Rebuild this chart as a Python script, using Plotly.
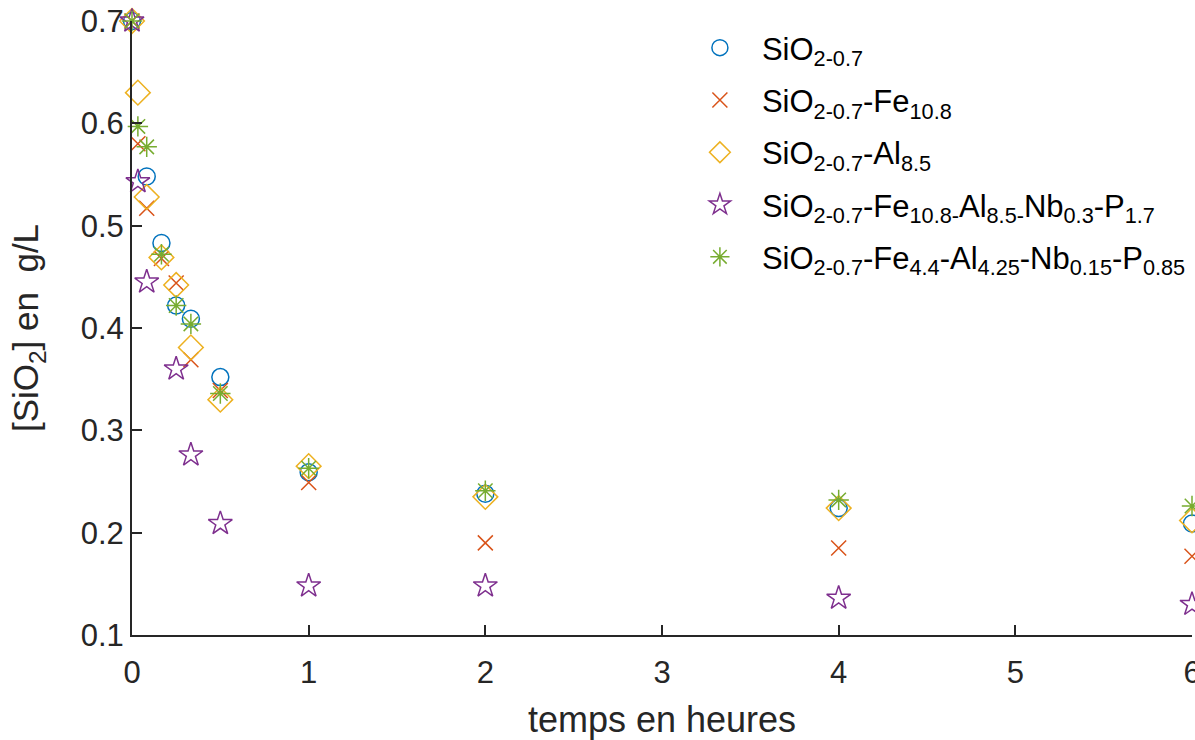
import plotly.graph_objects as go

# time in hours
t_blue = [0, 0.0833, 0.1667, 0.25, 0.3333, 0.5, 1, 2, 4, 6]
v_blue = [0.700, 0.548, 0.483, 0.422, 0.409, 0.352, 0.259, 0.238, 0.224, 0.209]

t_red = [0, 0.0333, 0.0833, 0.1667, 0.25, 0.3333, 0.5, 1, 2, 4, 6]
v_red = [0.700, 0.580, 0.517, 0.468, 0.444, 0.369, 0.339, 0.249, 0.190, 0.185, 0.177]

t_yel = [0, 0.0333, 0.0833, 0.1667, 0.25, 0.3333, 0.5, 1, 2, 4, 6]
v_yel = [0.700, 0.630, 0.528, 0.469, 0.442, 0.381, 0.330, 0.265, 0.235, 0.224, 0.212]

t_pur = [0, 0.0333, 0.0833, 0.25, 0.3333, 0.5, 1, 2, 4, 6]
v_pur = [0.700, 0.543, 0.445, 0.360, 0.276, 0.209, 0.148, 0.148, 0.136, 0.130]

t_grn = [0, 0.0333, 0.0833, 0.1667, 0.25, 0.3333, 0.5, 1, 2, 4, 6]
v_grn = [0.700, 0.597, 0.577, 0.472, 0.422, 0.404, 0.336, 0.263, 0.241, 0.232, 0.226]

names = [
    "SiO<sub>2-0.7</sub>",
    "SiO<sub>2-0.7</sub>-Fe<sub>10.8</sub>",
    "SiO<sub>2-0.7</sub>-Al<sub>8.5</sub>",
    "SiO<sub>2-0.7</sub>-Fe<sub>10.8-</sub>Al<sub>8.5-</sub>Nb<sub>0.3</sub>-P<sub>1.7</sub>",
    "SiO<sub>2-0.7</sub>-Fe<sub>4.4</sub>-Al<sub>4.25</sub>-Nb<sub>0.15</sub>-P<sub>0.85</sub>",
]
colors = ["#0072BD", "#D95319", "#EDB120", "#7E2F8E", "#77AC30"]
symbols = ["circle-open", "x-thin-open", "diamond-open", "star-open", "asterisk-open"]
sizes = [17, 15, 19, 18, 17]

series = [(t_blue, v_blue), (t_red, v_red), (t_yel, v_yel), (t_pur, v_pur), (t_grn, v_grn)]

fig = go.Figure()
for i, ((t, v), n, c, s, sz) in enumerate(zip(series, names, colors, symbols, sizes)):
    fig.add_trace(go.Scatter(
        x=t, y=v, mode="markers", name=n, cliponaxis=False, legendgroup=f"g{i}",
        marker=dict(symbol=s, size=sz, color=c, line=dict(color=c, width=1.5)),
    ))

axis_common = dict(
    showline=True, linecolor="#262626", linewidth=2, mirror=False,
    ticks="inside", ticklen=10, tickwidth=2, tickcolor="#262626",
    showgrid=False, zeroline=False, automargin=False, ticklabeloverflow="allow",
    tickfont=dict(size=31, color="#262626", family="Liberation Sans, Arial"),
)

fig.update_layout(
    width=1195, height=740,
    paper_bgcolor="white", plot_bgcolor="white",
    margin=dict(l=132, r=3, t=21, b=105),
    font=dict(family="Liberation Sans, Arial", color="#262626"),
    xaxis=dict(range=[0, 6], tickvals=[0, 1, 2, 3, 4, 5, 6], ticklabelstandoff=9,
               title=dict(text="temps en heures", font=dict(size=36), standoff=18),
               **axis_common),
    yaxis=dict(range=[0.1, 0.7], tickvals=[0.1, 0.2, 0.3, 0.4, 0.5, 0.6, 0.7],
               tickformat=".1f",
               title=dict(text="[SiO<sub>2</sub>] en  g/L", font=dict(size=35), standoff=31),
               **axis_common),
    legend=dict(x=0.515, xanchor="left", y=1.0, yanchor="top",
                font=dict(size=31, color="black", family="Liberation Sans, Arial"),
                bgcolor="rgba(0,0,0,0)",
                itemwidth=74, tracegroupgap=9),
    showlegend=True,
)

fig.write_html("out.html", config={"displayModeBar": False},
               post_script="document.body.style.margin='0';")
